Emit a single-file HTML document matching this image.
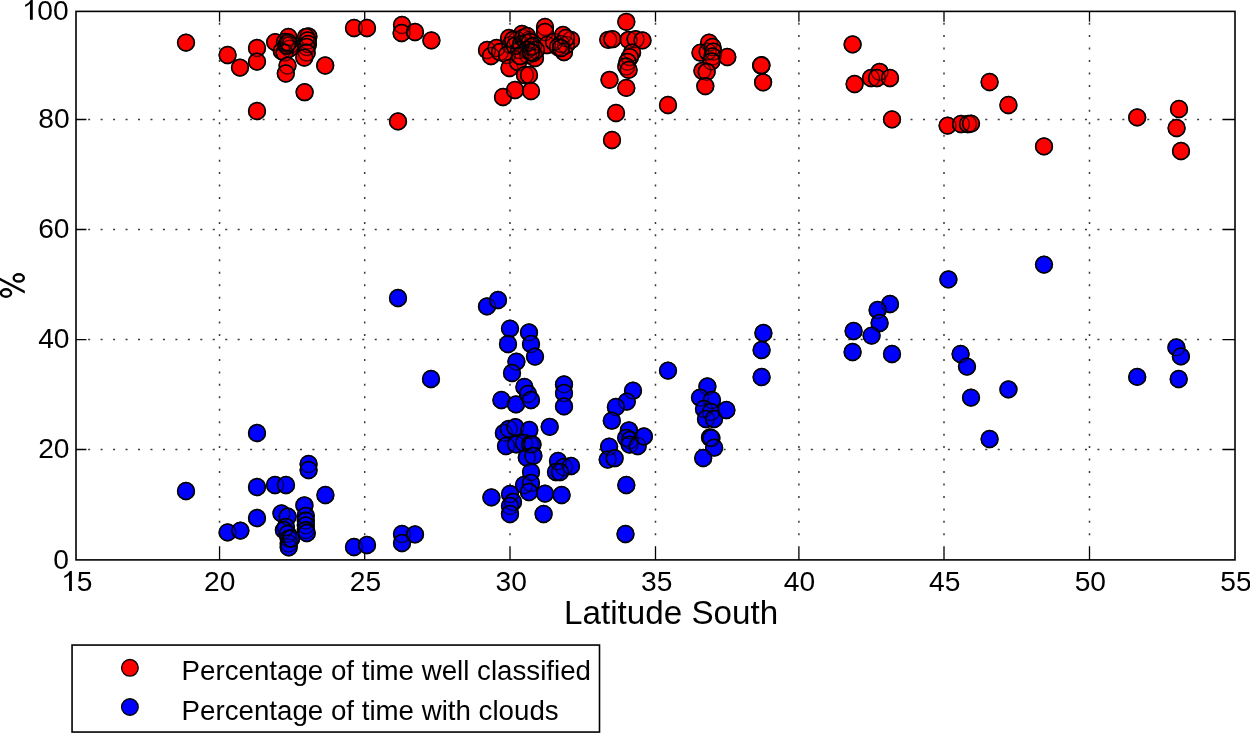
<!DOCTYPE html><html><head><meta charset="utf-8"><title>Latitude South</title><style>html,body{margin:0;padding:0;background:#fff;}svg{display:block;will-change:transform;}text{font-family:"Liberation Sans",sans-serif;fill:#000;}</style></head><body><svg width="1250" height="733" viewBox="0 0 1250 733"><rect width="1250" height="733" fill="#fff"/><path fill="#3a3a3a" d="M88.16 118.75h2.0v1.5h-2.0zM100.62 118.75h2.0v1.5h-2.0zM113.08 118.75h2.0v1.5h-2.0zM125.54 118.75h2.0v1.5h-2.0zM138.00 118.75h2.0v1.5h-2.0zM150.46 118.75h2.0v1.5h-2.0zM162.92 118.75h2.0v1.5h-2.0zM175.38 118.75h2.0v1.5h-2.0zM187.84 118.75h2.0v1.5h-2.0zM200.30 118.75h2.0v1.5h-2.0zM212.76 118.75h2.0v1.5h-2.0zM225.22 118.75h2.0v1.5h-2.0zM237.68 118.75h2.0v1.5h-2.0zM250.14 118.75h2.0v1.5h-2.0zM262.60 118.75h2.0v1.5h-2.0zM275.06 118.75h2.0v1.5h-2.0zM287.52 118.75h2.0v1.5h-2.0zM299.98 118.75h2.0v1.5h-2.0zM312.44 118.75h2.0v1.5h-2.0zM324.90 118.75h2.0v1.5h-2.0zM337.36 118.75h2.0v1.5h-2.0zM349.82 118.75h2.0v1.5h-2.0zM362.28 118.75h2.0v1.5h-2.0zM374.74 118.75h2.0v1.5h-2.0zM387.20 118.75h2.0v1.5h-2.0zM399.66 118.75h2.0v1.5h-2.0zM412.12 118.75h2.0v1.5h-2.0zM424.58 118.75h2.0v1.5h-2.0zM437.04 118.75h2.0v1.5h-2.0zM449.50 118.75h2.0v1.5h-2.0zM461.96 118.75h2.0v1.5h-2.0zM474.42 118.75h2.0v1.5h-2.0zM486.88 118.75h2.0v1.5h-2.0zM499.34 118.75h2.0v1.5h-2.0zM511.80 118.75h2.0v1.5h-2.0zM524.26 118.75h2.0v1.5h-2.0zM536.72 118.75h2.0v1.5h-2.0zM549.18 118.75h2.0v1.5h-2.0zM561.64 118.75h2.0v1.5h-2.0zM574.10 118.75h2.0v1.5h-2.0zM586.56 118.75h2.0v1.5h-2.0zM599.02 118.75h2.0v1.5h-2.0zM611.48 118.75h2.0v1.5h-2.0zM623.94 118.75h2.0v1.5h-2.0zM636.40 118.75h2.0v1.5h-2.0zM648.86 118.75h2.0v1.5h-2.0zM661.32 118.75h2.0v1.5h-2.0zM673.78 118.75h2.0v1.5h-2.0zM686.24 118.75h2.0v1.5h-2.0zM698.70 118.75h2.0v1.5h-2.0zM711.16 118.75h2.0v1.5h-2.0zM723.62 118.75h2.0v1.5h-2.0zM736.08 118.75h2.0v1.5h-2.0zM748.54 118.75h2.0v1.5h-2.0zM761.00 118.75h2.0v1.5h-2.0zM773.46 118.75h2.0v1.5h-2.0zM785.92 118.75h2.0v1.5h-2.0zM798.38 118.75h2.0v1.5h-2.0zM810.84 118.75h2.0v1.5h-2.0zM823.30 118.75h2.0v1.5h-2.0zM835.76 118.75h2.0v1.5h-2.0zM848.22 118.75h2.0v1.5h-2.0zM860.68 118.75h2.0v1.5h-2.0zM873.14 118.75h2.0v1.5h-2.0zM885.60 118.75h2.0v1.5h-2.0zM898.06 118.75h2.0v1.5h-2.0zM910.52 118.75h2.0v1.5h-2.0zM922.98 118.75h2.0v1.5h-2.0zM935.44 118.75h2.0v1.5h-2.0zM947.90 118.75h2.0v1.5h-2.0zM960.36 118.75h2.0v1.5h-2.0zM972.82 118.75h2.0v1.5h-2.0zM985.28 118.75h2.0v1.5h-2.0zM997.74 118.75h2.0v1.5h-2.0zM1010.20 118.75h2.0v1.5h-2.0zM1022.66 118.75h2.0v1.5h-2.0zM1035.12 118.75h2.0v1.5h-2.0zM1047.58 118.75h2.0v1.5h-2.0zM1060.04 118.75h2.0v1.5h-2.0zM1072.50 118.75h2.0v1.5h-2.0zM1084.96 118.75h2.0v1.5h-2.0zM1097.42 118.75h2.0v1.5h-2.0zM1109.88 118.75h2.0v1.5h-2.0zM1122.34 118.75h2.0v1.5h-2.0zM1134.80 118.75h2.0v1.5h-2.0zM1147.26 118.75h2.0v1.5h-2.0zM1159.72 118.75h2.0v1.5h-2.0zM1172.18 118.75h2.0v1.5h-2.0zM1184.64 118.75h2.0v1.5h-2.0zM1197.10 118.75h2.0v1.5h-2.0zM1209.56 118.75h2.0v1.5h-2.0zM88.16 228.75h2.0v1.5h-2.0zM100.62 228.75h2.0v1.5h-2.0zM113.08 228.75h2.0v1.5h-2.0zM125.54 228.75h2.0v1.5h-2.0zM138.00 228.75h2.0v1.5h-2.0zM150.46 228.75h2.0v1.5h-2.0zM162.92 228.75h2.0v1.5h-2.0zM175.38 228.75h2.0v1.5h-2.0zM187.84 228.75h2.0v1.5h-2.0zM200.30 228.75h2.0v1.5h-2.0zM212.76 228.75h2.0v1.5h-2.0zM225.22 228.75h2.0v1.5h-2.0zM237.68 228.75h2.0v1.5h-2.0zM250.14 228.75h2.0v1.5h-2.0zM262.60 228.75h2.0v1.5h-2.0zM275.06 228.75h2.0v1.5h-2.0zM287.52 228.75h2.0v1.5h-2.0zM299.98 228.75h2.0v1.5h-2.0zM312.44 228.75h2.0v1.5h-2.0zM324.90 228.75h2.0v1.5h-2.0zM337.36 228.75h2.0v1.5h-2.0zM349.82 228.75h2.0v1.5h-2.0zM362.28 228.75h2.0v1.5h-2.0zM374.74 228.75h2.0v1.5h-2.0zM387.20 228.75h2.0v1.5h-2.0zM399.66 228.75h2.0v1.5h-2.0zM412.12 228.75h2.0v1.5h-2.0zM424.58 228.75h2.0v1.5h-2.0zM437.04 228.75h2.0v1.5h-2.0zM449.50 228.75h2.0v1.5h-2.0zM461.96 228.75h2.0v1.5h-2.0zM474.42 228.75h2.0v1.5h-2.0zM486.88 228.75h2.0v1.5h-2.0zM499.34 228.75h2.0v1.5h-2.0zM511.80 228.75h2.0v1.5h-2.0zM524.26 228.75h2.0v1.5h-2.0zM536.72 228.75h2.0v1.5h-2.0zM549.18 228.75h2.0v1.5h-2.0zM561.64 228.75h2.0v1.5h-2.0zM574.10 228.75h2.0v1.5h-2.0zM586.56 228.75h2.0v1.5h-2.0zM599.02 228.75h2.0v1.5h-2.0zM611.48 228.75h2.0v1.5h-2.0zM623.94 228.75h2.0v1.5h-2.0zM636.40 228.75h2.0v1.5h-2.0zM648.86 228.75h2.0v1.5h-2.0zM661.32 228.75h2.0v1.5h-2.0zM673.78 228.75h2.0v1.5h-2.0zM686.24 228.75h2.0v1.5h-2.0zM698.70 228.75h2.0v1.5h-2.0zM711.16 228.75h2.0v1.5h-2.0zM723.62 228.75h2.0v1.5h-2.0zM736.08 228.75h2.0v1.5h-2.0zM748.54 228.75h2.0v1.5h-2.0zM761.00 228.75h2.0v1.5h-2.0zM773.46 228.75h2.0v1.5h-2.0zM785.92 228.75h2.0v1.5h-2.0zM798.38 228.75h2.0v1.5h-2.0zM810.84 228.75h2.0v1.5h-2.0zM823.30 228.75h2.0v1.5h-2.0zM835.76 228.75h2.0v1.5h-2.0zM848.22 228.75h2.0v1.5h-2.0zM860.68 228.75h2.0v1.5h-2.0zM873.14 228.75h2.0v1.5h-2.0zM885.60 228.75h2.0v1.5h-2.0zM898.06 228.75h2.0v1.5h-2.0zM910.52 228.75h2.0v1.5h-2.0zM922.98 228.75h2.0v1.5h-2.0zM935.44 228.75h2.0v1.5h-2.0zM947.90 228.75h2.0v1.5h-2.0zM960.36 228.75h2.0v1.5h-2.0zM972.82 228.75h2.0v1.5h-2.0zM985.28 228.75h2.0v1.5h-2.0zM997.74 228.75h2.0v1.5h-2.0zM1010.20 228.75h2.0v1.5h-2.0zM1022.66 228.75h2.0v1.5h-2.0zM1035.12 228.75h2.0v1.5h-2.0zM1047.58 228.75h2.0v1.5h-2.0zM1060.04 228.75h2.0v1.5h-2.0zM1072.50 228.75h2.0v1.5h-2.0zM1084.96 228.75h2.0v1.5h-2.0zM1097.42 228.75h2.0v1.5h-2.0zM1109.88 228.75h2.0v1.5h-2.0zM1122.34 228.75h2.0v1.5h-2.0zM1134.80 228.75h2.0v1.5h-2.0zM1147.26 228.75h2.0v1.5h-2.0zM1159.72 228.75h2.0v1.5h-2.0zM1172.18 228.75h2.0v1.5h-2.0zM1184.64 228.75h2.0v1.5h-2.0zM1197.10 228.75h2.0v1.5h-2.0zM1209.56 228.75h2.0v1.5h-2.0zM88.16 338.85h2.0v1.5h-2.0zM100.62 338.85h2.0v1.5h-2.0zM113.08 338.85h2.0v1.5h-2.0zM125.54 338.85h2.0v1.5h-2.0zM138.00 338.85h2.0v1.5h-2.0zM150.46 338.85h2.0v1.5h-2.0zM162.92 338.85h2.0v1.5h-2.0zM175.38 338.85h2.0v1.5h-2.0zM187.84 338.85h2.0v1.5h-2.0zM200.30 338.85h2.0v1.5h-2.0zM212.76 338.85h2.0v1.5h-2.0zM225.22 338.85h2.0v1.5h-2.0zM237.68 338.85h2.0v1.5h-2.0zM250.14 338.85h2.0v1.5h-2.0zM262.60 338.85h2.0v1.5h-2.0zM275.06 338.85h2.0v1.5h-2.0zM287.52 338.85h2.0v1.5h-2.0zM299.98 338.85h2.0v1.5h-2.0zM312.44 338.85h2.0v1.5h-2.0zM324.90 338.85h2.0v1.5h-2.0zM337.36 338.85h2.0v1.5h-2.0zM349.82 338.85h2.0v1.5h-2.0zM362.28 338.85h2.0v1.5h-2.0zM374.74 338.85h2.0v1.5h-2.0zM387.20 338.85h2.0v1.5h-2.0zM399.66 338.85h2.0v1.5h-2.0zM412.12 338.85h2.0v1.5h-2.0zM424.58 338.85h2.0v1.5h-2.0zM437.04 338.85h2.0v1.5h-2.0zM449.50 338.85h2.0v1.5h-2.0zM461.96 338.85h2.0v1.5h-2.0zM474.42 338.85h2.0v1.5h-2.0zM486.88 338.85h2.0v1.5h-2.0zM499.34 338.85h2.0v1.5h-2.0zM511.80 338.85h2.0v1.5h-2.0zM524.26 338.85h2.0v1.5h-2.0zM536.72 338.85h2.0v1.5h-2.0zM549.18 338.85h2.0v1.5h-2.0zM561.64 338.85h2.0v1.5h-2.0zM574.10 338.85h2.0v1.5h-2.0zM586.56 338.85h2.0v1.5h-2.0zM599.02 338.85h2.0v1.5h-2.0zM611.48 338.85h2.0v1.5h-2.0zM623.94 338.85h2.0v1.5h-2.0zM636.40 338.85h2.0v1.5h-2.0zM648.86 338.85h2.0v1.5h-2.0zM661.32 338.85h2.0v1.5h-2.0zM673.78 338.85h2.0v1.5h-2.0zM686.24 338.85h2.0v1.5h-2.0zM698.70 338.85h2.0v1.5h-2.0zM711.16 338.85h2.0v1.5h-2.0zM723.62 338.85h2.0v1.5h-2.0zM736.08 338.85h2.0v1.5h-2.0zM748.54 338.85h2.0v1.5h-2.0zM761.00 338.85h2.0v1.5h-2.0zM773.46 338.85h2.0v1.5h-2.0zM785.92 338.85h2.0v1.5h-2.0zM798.38 338.85h2.0v1.5h-2.0zM810.84 338.85h2.0v1.5h-2.0zM823.30 338.85h2.0v1.5h-2.0zM835.76 338.85h2.0v1.5h-2.0zM848.22 338.85h2.0v1.5h-2.0zM860.68 338.85h2.0v1.5h-2.0zM873.14 338.85h2.0v1.5h-2.0zM885.60 338.85h2.0v1.5h-2.0zM898.06 338.85h2.0v1.5h-2.0zM910.52 338.85h2.0v1.5h-2.0zM922.98 338.85h2.0v1.5h-2.0zM935.44 338.85h2.0v1.5h-2.0zM947.90 338.85h2.0v1.5h-2.0zM960.36 338.85h2.0v1.5h-2.0zM972.82 338.85h2.0v1.5h-2.0zM985.28 338.85h2.0v1.5h-2.0zM997.74 338.85h2.0v1.5h-2.0zM1010.20 338.85h2.0v1.5h-2.0zM1022.66 338.85h2.0v1.5h-2.0zM1035.12 338.85h2.0v1.5h-2.0zM1047.58 338.85h2.0v1.5h-2.0zM1060.04 338.85h2.0v1.5h-2.0zM1072.50 338.85h2.0v1.5h-2.0zM1084.96 338.85h2.0v1.5h-2.0zM1097.42 338.85h2.0v1.5h-2.0zM1109.88 338.85h2.0v1.5h-2.0zM1122.34 338.85h2.0v1.5h-2.0zM1134.80 338.85h2.0v1.5h-2.0zM1147.26 338.85h2.0v1.5h-2.0zM1159.72 338.85h2.0v1.5h-2.0zM1172.18 338.85h2.0v1.5h-2.0zM1184.64 338.85h2.0v1.5h-2.0zM1197.10 338.85h2.0v1.5h-2.0zM1209.56 338.85h2.0v1.5h-2.0zM88.16 448.75h2.0v1.5h-2.0zM100.62 448.75h2.0v1.5h-2.0zM113.08 448.75h2.0v1.5h-2.0zM125.54 448.75h2.0v1.5h-2.0zM138.00 448.75h2.0v1.5h-2.0zM150.46 448.75h2.0v1.5h-2.0zM162.92 448.75h2.0v1.5h-2.0zM175.38 448.75h2.0v1.5h-2.0zM187.84 448.75h2.0v1.5h-2.0zM200.30 448.75h2.0v1.5h-2.0zM212.76 448.75h2.0v1.5h-2.0zM225.22 448.75h2.0v1.5h-2.0zM237.68 448.75h2.0v1.5h-2.0zM250.14 448.75h2.0v1.5h-2.0zM262.60 448.75h2.0v1.5h-2.0zM275.06 448.75h2.0v1.5h-2.0zM287.52 448.75h2.0v1.5h-2.0zM299.98 448.75h2.0v1.5h-2.0zM312.44 448.75h2.0v1.5h-2.0zM324.90 448.75h2.0v1.5h-2.0zM337.36 448.75h2.0v1.5h-2.0zM349.82 448.75h2.0v1.5h-2.0zM362.28 448.75h2.0v1.5h-2.0zM374.74 448.75h2.0v1.5h-2.0zM387.20 448.75h2.0v1.5h-2.0zM399.66 448.75h2.0v1.5h-2.0zM412.12 448.75h2.0v1.5h-2.0zM424.58 448.75h2.0v1.5h-2.0zM437.04 448.75h2.0v1.5h-2.0zM449.50 448.75h2.0v1.5h-2.0zM461.96 448.75h2.0v1.5h-2.0zM474.42 448.75h2.0v1.5h-2.0zM486.88 448.75h2.0v1.5h-2.0zM499.34 448.75h2.0v1.5h-2.0zM511.80 448.75h2.0v1.5h-2.0zM524.26 448.75h2.0v1.5h-2.0zM536.72 448.75h2.0v1.5h-2.0zM549.18 448.75h2.0v1.5h-2.0zM561.64 448.75h2.0v1.5h-2.0zM574.10 448.75h2.0v1.5h-2.0zM586.56 448.75h2.0v1.5h-2.0zM599.02 448.75h2.0v1.5h-2.0zM611.48 448.75h2.0v1.5h-2.0zM623.94 448.75h2.0v1.5h-2.0zM636.40 448.75h2.0v1.5h-2.0zM648.86 448.75h2.0v1.5h-2.0zM661.32 448.75h2.0v1.5h-2.0zM673.78 448.75h2.0v1.5h-2.0zM686.24 448.75h2.0v1.5h-2.0zM698.70 448.75h2.0v1.5h-2.0zM711.16 448.75h2.0v1.5h-2.0zM723.62 448.75h2.0v1.5h-2.0zM736.08 448.75h2.0v1.5h-2.0zM748.54 448.75h2.0v1.5h-2.0zM761.00 448.75h2.0v1.5h-2.0zM773.46 448.75h2.0v1.5h-2.0zM785.92 448.75h2.0v1.5h-2.0zM798.38 448.75h2.0v1.5h-2.0zM810.84 448.75h2.0v1.5h-2.0zM823.30 448.75h2.0v1.5h-2.0zM835.76 448.75h2.0v1.5h-2.0zM848.22 448.75h2.0v1.5h-2.0zM860.68 448.75h2.0v1.5h-2.0zM873.14 448.75h2.0v1.5h-2.0zM885.60 448.75h2.0v1.5h-2.0zM898.06 448.75h2.0v1.5h-2.0zM910.52 448.75h2.0v1.5h-2.0zM922.98 448.75h2.0v1.5h-2.0zM935.44 448.75h2.0v1.5h-2.0zM947.90 448.75h2.0v1.5h-2.0zM960.36 448.75h2.0v1.5h-2.0zM972.82 448.75h2.0v1.5h-2.0zM985.28 448.75h2.0v1.5h-2.0zM997.74 448.75h2.0v1.5h-2.0zM1010.20 448.75h2.0v1.5h-2.0zM1022.66 448.75h2.0v1.5h-2.0zM1035.12 448.75h2.0v1.5h-2.0zM1047.58 448.75h2.0v1.5h-2.0zM1060.04 448.75h2.0v1.5h-2.0zM1072.50 448.75h2.0v1.5h-2.0zM1084.96 448.75h2.0v1.5h-2.0zM1097.42 448.75h2.0v1.5h-2.0zM1109.88 448.75h2.0v1.5h-2.0zM1122.34 448.75h2.0v1.5h-2.0zM1134.80 448.75h2.0v1.5h-2.0zM1147.26 448.75h2.0v1.5h-2.0zM1159.72 448.75h2.0v1.5h-2.0zM1172.18 448.75h2.0v1.5h-2.0zM1184.64 448.75h2.0v1.5h-2.0zM1197.10 448.75h2.0v1.5h-2.0zM1209.56 448.75h2.0v1.5h-2.0zM218.80 22.63h1.5v2.0h-1.5zM218.80 35.09h1.5v2.0h-1.5zM218.80 47.55h1.5v2.0h-1.5zM218.80 60.00h1.5v2.0h-1.5zM218.80 72.45h1.5v2.0h-1.5zM218.80 84.91h1.5v2.0h-1.5zM218.80 97.37h1.5v2.0h-1.5zM218.80 109.82h1.5v2.0h-1.5zM218.80 122.28h1.5v2.0h-1.5zM218.80 134.73h1.5v2.0h-1.5zM218.80 147.19h1.5v2.0h-1.5zM218.80 159.64h1.5v2.0h-1.5zM218.80 172.09h1.5v2.0h-1.5zM218.80 184.55h1.5v2.0h-1.5zM218.80 197.00h1.5v2.0h-1.5zM218.80 209.46h1.5v2.0h-1.5zM218.80 221.92h1.5v2.0h-1.5zM218.80 234.37h1.5v2.0h-1.5zM218.80 246.83h1.5v2.0h-1.5zM218.80 259.28h1.5v2.0h-1.5zM218.80 271.74h1.5v2.0h-1.5zM218.80 284.19h1.5v2.0h-1.5zM218.80 296.64h1.5v2.0h-1.5zM218.80 309.10h1.5v2.0h-1.5zM218.80 321.56h1.5v2.0h-1.5zM218.80 334.01h1.5v2.0h-1.5zM218.80 346.47h1.5v2.0h-1.5zM218.80 358.92h1.5v2.0h-1.5zM218.80 371.38h1.5v2.0h-1.5zM218.80 383.83h1.5v2.0h-1.5zM218.80 396.29h1.5v2.0h-1.5zM218.80 408.74h1.5v2.0h-1.5zM218.80 421.19h1.5v2.0h-1.5zM218.80 433.65h1.5v2.0h-1.5zM218.80 446.11h1.5v2.0h-1.5zM218.80 458.56h1.5v2.0h-1.5zM218.80 471.01h1.5v2.0h-1.5zM218.80 483.47h1.5v2.0h-1.5zM218.80 495.93h1.5v2.0h-1.5zM218.80 508.38h1.5v2.0h-1.5zM218.80 520.84h1.5v2.0h-1.5zM218.80 533.29h1.5v2.0h-1.5zM363.95 22.63h1.5v2.0h-1.5zM363.95 35.09h1.5v2.0h-1.5zM363.95 47.55h1.5v2.0h-1.5zM363.95 60.00h1.5v2.0h-1.5zM363.95 72.45h1.5v2.0h-1.5zM363.95 84.91h1.5v2.0h-1.5zM363.95 97.37h1.5v2.0h-1.5zM363.95 109.82h1.5v2.0h-1.5zM363.95 122.28h1.5v2.0h-1.5zM363.95 134.73h1.5v2.0h-1.5zM363.95 147.19h1.5v2.0h-1.5zM363.95 159.64h1.5v2.0h-1.5zM363.95 172.09h1.5v2.0h-1.5zM363.95 184.55h1.5v2.0h-1.5zM363.95 197.00h1.5v2.0h-1.5zM363.95 209.46h1.5v2.0h-1.5zM363.95 221.92h1.5v2.0h-1.5zM363.95 234.37h1.5v2.0h-1.5zM363.95 246.83h1.5v2.0h-1.5zM363.95 259.28h1.5v2.0h-1.5zM363.95 271.74h1.5v2.0h-1.5zM363.95 284.19h1.5v2.0h-1.5zM363.95 296.64h1.5v2.0h-1.5zM363.95 309.10h1.5v2.0h-1.5zM363.95 321.56h1.5v2.0h-1.5zM363.95 334.01h1.5v2.0h-1.5zM363.95 346.47h1.5v2.0h-1.5zM363.95 358.92h1.5v2.0h-1.5zM363.95 371.38h1.5v2.0h-1.5zM363.95 383.83h1.5v2.0h-1.5zM363.95 396.29h1.5v2.0h-1.5zM363.95 408.74h1.5v2.0h-1.5zM363.95 421.19h1.5v2.0h-1.5zM363.95 433.65h1.5v2.0h-1.5zM363.95 446.11h1.5v2.0h-1.5zM363.95 458.56h1.5v2.0h-1.5zM363.95 471.01h1.5v2.0h-1.5zM363.95 483.47h1.5v2.0h-1.5zM363.95 495.93h1.5v2.0h-1.5zM363.95 508.38h1.5v2.0h-1.5zM363.95 520.84h1.5v2.0h-1.5zM363.95 533.29h1.5v2.0h-1.5zM509.25 22.63h1.5v2.0h-1.5zM509.25 35.09h1.5v2.0h-1.5zM509.25 47.55h1.5v2.0h-1.5zM509.25 60.00h1.5v2.0h-1.5zM509.25 72.45h1.5v2.0h-1.5zM509.25 84.91h1.5v2.0h-1.5zM509.25 97.37h1.5v2.0h-1.5zM509.25 109.82h1.5v2.0h-1.5zM509.25 122.28h1.5v2.0h-1.5zM509.25 134.73h1.5v2.0h-1.5zM509.25 147.19h1.5v2.0h-1.5zM509.25 159.64h1.5v2.0h-1.5zM509.25 172.09h1.5v2.0h-1.5zM509.25 184.55h1.5v2.0h-1.5zM509.25 197.00h1.5v2.0h-1.5zM509.25 209.46h1.5v2.0h-1.5zM509.25 221.92h1.5v2.0h-1.5zM509.25 234.37h1.5v2.0h-1.5zM509.25 246.83h1.5v2.0h-1.5zM509.25 259.28h1.5v2.0h-1.5zM509.25 271.74h1.5v2.0h-1.5zM509.25 284.19h1.5v2.0h-1.5zM509.25 296.64h1.5v2.0h-1.5zM509.25 309.10h1.5v2.0h-1.5zM509.25 321.56h1.5v2.0h-1.5zM509.25 334.01h1.5v2.0h-1.5zM509.25 346.47h1.5v2.0h-1.5zM509.25 358.92h1.5v2.0h-1.5zM509.25 371.38h1.5v2.0h-1.5zM509.25 383.83h1.5v2.0h-1.5zM509.25 396.29h1.5v2.0h-1.5zM509.25 408.74h1.5v2.0h-1.5zM509.25 421.19h1.5v2.0h-1.5zM509.25 433.65h1.5v2.0h-1.5zM509.25 446.11h1.5v2.0h-1.5zM509.25 458.56h1.5v2.0h-1.5zM509.25 471.01h1.5v2.0h-1.5zM509.25 483.47h1.5v2.0h-1.5zM509.25 495.93h1.5v2.0h-1.5zM509.25 508.38h1.5v2.0h-1.5zM509.25 520.84h1.5v2.0h-1.5zM509.25 533.29h1.5v2.0h-1.5zM654.75 22.63h1.5v2.0h-1.5zM654.75 35.09h1.5v2.0h-1.5zM654.75 47.55h1.5v2.0h-1.5zM654.75 60.00h1.5v2.0h-1.5zM654.75 72.45h1.5v2.0h-1.5zM654.75 84.91h1.5v2.0h-1.5zM654.75 97.37h1.5v2.0h-1.5zM654.75 109.82h1.5v2.0h-1.5zM654.75 122.28h1.5v2.0h-1.5zM654.75 134.73h1.5v2.0h-1.5zM654.75 147.19h1.5v2.0h-1.5zM654.75 159.64h1.5v2.0h-1.5zM654.75 172.09h1.5v2.0h-1.5zM654.75 184.55h1.5v2.0h-1.5zM654.75 197.00h1.5v2.0h-1.5zM654.75 209.46h1.5v2.0h-1.5zM654.75 221.92h1.5v2.0h-1.5zM654.75 234.37h1.5v2.0h-1.5zM654.75 246.83h1.5v2.0h-1.5zM654.75 259.28h1.5v2.0h-1.5zM654.75 271.74h1.5v2.0h-1.5zM654.75 284.19h1.5v2.0h-1.5zM654.75 296.64h1.5v2.0h-1.5zM654.75 309.10h1.5v2.0h-1.5zM654.75 321.56h1.5v2.0h-1.5zM654.75 334.01h1.5v2.0h-1.5zM654.75 346.47h1.5v2.0h-1.5zM654.75 358.92h1.5v2.0h-1.5zM654.75 371.38h1.5v2.0h-1.5zM654.75 383.83h1.5v2.0h-1.5zM654.75 396.29h1.5v2.0h-1.5zM654.75 408.74h1.5v2.0h-1.5zM654.75 421.19h1.5v2.0h-1.5zM654.75 433.65h1.5v2.0h-1.5zM654.75 446.11h1.5v2.0h-1.5zM654.75 458.56h1.5v2.0h-1.5zM654.75 471.01h1.5v2.0h-1.5zM654.75 483.47h1.5v2.0h-1.5zM654.75 495.93h1.5v2.0h-1.5zM654.75 508.38h1.5v2.0h-1.5zM654.75 520.84h1.5v2.0h-1.5zM654.75 533.29h1.5v2.0h-1.5zM798.15 22.63h1.5v2.0h-1.5zM798.15 35.09h1.5v2.0h-1.5zM798.15 47.55h1.5v2.0h-1.5zM798.15 60.00h1.5v2.0h-1.5zM798.15 72.45h1.5v2.0h-1.5zM798.15 84.91h1.5v2.0h-1.5zM798.15 97.37h1.5v2.0h-1.5zM798.15 109.82h1.5v2.0h-1.5zM798.15 122.28h1.5v2.0h-1.5zM798.15 134.73h1.5v2.0h-1.5zM798.15 147.19h1.5v2.0h-1.5zM798.15 159.64h1.5v2.0h-1.5zM798.15 172.09h1.5v2.0h-1.5zM798.15 184.55h1.5v2.0h-1.5zM798.15 197.00h1.5v2.0h-1.5zM798.15 209.46h1.5v2.0h-1.5zM798.15 221.92h1.5v2.0h-1.5zM798.15 234.37h1.5v2.0h-1.5zM798.15 246.83h1.5v2.0h-1.5zM798.15 259.28h1.5v2.0h-1.5zM798.15 271.74h1.5v2.0h-1.5zM798.15 284.19h1.5v2.0h-1.5zM798.15 296.64h1.5v2.0h-1.5zM798.15 309.10h1.5v2.0h-1.5zM798.15 321.56h1.5v2.0h-1.5zM798.15 334.01h1.5v2.0h-1.5zM798.15 346.47h1.5v2.0h-1.5zM798.15 358.92h1.5v2.0h-1.5zM798.15 371.38h1.5v2.0h-1.5zM798.15 383.83h1.5v2.0h-1.5zM798.15 396.29h1.5v2.0h-1.5zM798.15 408.74h1.5v2.0h-1.5zM798.15 421.19h1.5v2.0h-1.5zM798.15 433.65h1.5v2.0h-1.5zM798.15 446.11h1.5v2.0h-1.5zM798.15 458.56h1.5v2.0h-1.5zM798.15 471.01h1.5v2.0h-1.5zM798.15 483.47h1.5v2.0h-1.5zM798.15 495.93h1.5v2.0h-1.5zM798.15 508.38h1.5v2.0h-1.5zM798.15 520.84h1.5v2.0h-1.5zM798.15 533.29h1.5v2.0h-1.5zM943.25 22.63h1.5v2.0h-1.5zM943.25 35.09h1.5v2.0h-1.5zM943.25 47.55h1.5v2.0h-1.5zM943.25 60.00h1.5v2.0h-1.5zM943.25 72.45h1.5v2.0h-1.5zM943.25 84.91h1.5v2.0h-1.5zM943.25 97.37h1.5v2.0h-1.5zM943.25 109.82h1.5v2.0h-1.5zM943.25 122.28h1.5v2.0h-1.5zM943.25 134.73h1.5v2.0h-1.5zM943.25 147.19h1.5v2.0h-1.5zM943.25 159.64h1.5v2.0h-1.5zM943.25 172.09h1.5v2.0h-1.5zM943.25 184.55h1.5v2.0h-1.5zM943.25 197.00h1.5v2.0h-1.5zM943.25 209.46h1.5v2.0h-1.5zM943.25 221.92h1.5v2.0h-1.5zM943.25 234.37h1.5v2.0h-1.5zM943.25 246.83h1.5v2.0h-1.5zM943.25 259.28h1.5v2.0h-1.5zM943.25 271.74h1.5v2.0h-1.5zM943.25 284.19h1.5v2.0h-1.5zM943.25 296.64h1.5v2.0h-1.5zM943.25 309.10h1.5v2.0h-1.5zM943.25 321.56h1.5v2.0h-1.5zM943.25 334.01h1.5v2.0h-1.5zM943.25 346.47h1.5v2.0h-1.5zM943.25 358.92h1.5v2.0h-1.5zM943.25 371.38h1.5v2.0h-1.5zM943.25 383.83h1.5v2.0h-1.5zM943.25 396.29h1.5v2.0h-1.5zM943.25 408.74h1.5v2.0h-1.5zM943.25 421.19h1.5v2.0h-1.5zM943.25 433.65h1.5v2.0h-1.5zM943.25 446.11h1.5v2.0h-1.5zM943.25 458.56h1.5v2.0h-1.5zM943.25 471.01h1.5v2.0h-1.5zM943.25 483.47h1.5v2.0h-1.5zM943.25 495.93h1.5v2.0h-1.5zM943.25 508.38h1.5v2.0h-1.5zM943.25 520.84h1.5v2.0h-1.5zM943.25 533.29h1.5v2.0h-1.5zM1088.75 22.63h1.5v2.0h-1.5zM1088.75 35.09h1.5v2.0h-1.5zM1088.75 47.55h1.5v2.0h-1.5zM1088.75 60.00h1.5v2.0h-1.5zM1088.75 72.45h1.5v2.0h-1.5zM1088.75 84.91h1.5v2.0h-1.5zM1088.75 97.37h1.5v2.0h-1.5zM1088.75 109.82h1.5v2.0h-1.5zM1088.75 122.28h1.5v2.0h-1.5zM1088.75 134.73h1.5v2.0h-1.5zM1088.75 147.19h1.5v2.0h-1.5zM1088.75 159.64h1.5v2.0h-1.5zM1088.75 172.09h1.5v2.0h-1.5zM1088.75 184.55h1.5v2.0h-1.5zM1088.75 197.00h1.5v2.0h-1.5zM1088.75 209.46h1.5v2.0h-1.5zM1088.75 221.92h1.5v2.0h-1.5zM1088.75 234.37h1.5v2.0h-1.5zM1088.75 246.83h1.5v2.0h-1.5zM1088.75 259.28h1.5v2.0h-1.5zM1088.75 271.74h1.5v2.0h-1.5zM1088.75 284.19h1.5v2.0h-1.5zM1088.75 296.64h1.5v2.0h-1.5zM1088.75 309.10h1.5v2.0h-1.5zM1088.75 321.56h1.5v2.0h-1.5zM1088.75 334.01h1.5v2.0h-1.5zM1088.75 346.47h1.5v2.0h-1.5zM1088.75 358.92h1.5v2.0h-1.5zM1088.75 371.38h1.5v2.0h-1.5zM1088.75 383.83h1.5v2.0h-1.5zM1088.75 396.29h1.5v2.0h-1.5zM1088.75 408.74h1.5v2.0h-1.5zM1088.75 421.19h1.5v2.0h-1.5zM1088.75 433.65h1.5v2.0h-1.5zM1088.75 446.11h1.5v2.0h-1.5zM1088.75 458.56h1.5v2.0h-1.5zM1088.75 471.01h1.5v2.0h-1.5zM1088.75 483.47h1.5v2.0h-1.5zM1088.75 495.93h1.5v2.0h-1.5zM1088.75 508.38h1.5v2.0h-1.5zM1088.75 520.84h1.5v2.0h-1.5zM1088.75 533.29h1.5v2.0h-1.5z"/><path stroke="#000" stroke-width="1.3" fill="none" d="M76.0 119.5h10.4M1235.0 119.5H1222.4M76.0 229.5h10.4M1235.0 229.5H1222.4M76.0 339.6h10.4M1235.0 339.6H1222.4M76.0 449.5h10.4M1235.0 449.5H1222.4M219.55 559.9V546.2M219.55 11.4v10.4M364.70 559.9V546.2M364.70 11.4v10.4M510.00 559.9V546.2M510.00 11.4v10.4M655.50 559.9V546.2M655.50 11.4v10.4M798.90 559.9V546.2M798.90 11.4v10.4M944.00 559.9V546.2M944.00 11.4v10.4M1089.50 559.9V546.2M1089.50 11.4v10.4"/><rect x="76.0" y="11.4" width="1159.0" height="548.5" fill="none" stroke="#000" stroke-width="1.6"/><g fill="#f00" stroke="#000" stroke-width="1.5"><circle cx="186" cy="42.6" r="8.4"/><circle cx="227.6" cy="55" r="8.4"/><circle cx="240" cy="67.6" r="8.4"/><circle cx="257" cy="48" r="8.4"/><circle cx="257" cy="61.6" r="8.4"/><circle cx="257" cy="111" r="8.4"/><circle cx="275.2" cy="42.1" r="8.4"/><circle cx="288.4" cy="37.0" r="8.4"/><circle cx="285" cy="42" r="8.4"/><circle cx="287.1" cy="43.7" r="8.4"/><circle cx="290" cy="45" r="8.4"/><circle cx="289.5" cy="48.6" r="8.4"/><circle cx="281.8" cy="51.1" r="8.4"/><circle cx="284.6" cy="52.7" r="8.4"/><circle cx="286.5" cy="45.5" r="8.4"/><circle cx="288.3" cy="42.5" r="8.4"/><circle cx="287.5" cy="65.6" r="8.4"/><circle cx="285.8" cy="73.5" r="8.4"/><circle cx="304.6" cy="92.2" r="8.4"/><circle cx="308.4" cy="36.5" r="8.4"/><circle cx="306" cy="37" r="8.4"/><circle cx="307.6" cy="40.5" r="8.4"/><circle cx="308" cy="44" r="8.4"/><circle cx="306.7" cy="47" r="8.4"/><circle cx="306.7" cy="52.7" r="8.4"/><circle cx="304.3" cy="57.6" r="8.4"/><circle cx="325.2" cy="65.5" r="8.4"/><circle cx="354" cy="28" r="8.4"/><circle cx="367" cy="28" r="8.4"/><circle cx="398" cy="121.4" r="8.4"/><circle cx="402" cy="25" r="8.4"/><circle cx="401.6" cy="33" r="8.4"/><circle cx="415" cy="32" r="8.4"/><circle cx="431.4" cy="40.4" r="8.4"/><circle cx="487" cy="50" r="8.4"/><circle cx="491" cy="56" r="8.4"/><circle cx="496.5" cy="48" r="8.4"/><circle cx="500" cy="52" r="8.4"/><circle cx="509" cy="38" r="8.4"/><circle cx="510.5" cy="45" r="8.4"/><circle cx="507" cy="55" r="8.4"/><circle cx="509.5" cy="68" r="8.4"/><circle cx="518" cy="62" r="8.4"/><circle cx="522" cy="34" r="8.4"/><circle cx="517" cy="40" r="8.4"/><circle cx="526" cy="43" r="8.4"/><circle cx="529" cy="40" r="8.4"/><circle cx="531" cy="47" r="8.4"/><circle cx="528" cy="55" r="8.4"/><circle cx="535" cy="58" r="8.4"/><circle cx="533" cy="53" r="8.4"/><circle cx="525" cy="75" r="8.4"/><circle cx="529" cy="75" r="8.4"/><circle cx="545" cy="27" r="8.4"/><circle cx="545" cy="32" r="8.4"/><circle cx="547" cy="45" r="8.4"/><circle cx="554" cy="42" r="8.4"/><circle cx="563" cy="35" r="8.4"/><circle cx="571" cy="40" r="8.4"/><circle cx="564" cy="52" r="8.4"/><circle cx="561" cy="44" r="8.4"/><circle cx="558" cy="47" r="8.4"/><circle cx="566" cy="45" r="8.4"/><circle cx="503" cy="97" r="8.4"/><circle cx="515" cy="90" r="8.4"/><circle cx="531" cy="91" r="8.4"/><circle cx="513" cy="40" r="8.4"/><circle cx="515" cy="46" r="8.4"/><circle cx="519" cy="50" r="8.4"/><circle cx="521" cy="44" r="8.4"/><circle cx="523" cy="38" r="8.4"/><circle cx="527" cy="36" r="8.4"/><circle cx="530" cy="42" r="8.4"/><circle cx="533" cy="46" r="8.4"/><circle cx="536" cy="50" r="8.4"/><circle cx="527" cy="50" r="8.4"/><circle cx="520" cy="56" r="8.4"/><circle cx="531" cy="52" r="8.4"/><circle cx="566" cy="38" r="8.4"/><circle cx="561" cy="48" r="8.4"/><circle cx="626.3" cy="21.8" r="8.4"/><circle cx="608.3" cy="39.8" r="8.4"/><circle cx="612.4" cy="39.2" r="8.4"/><circle cx="628.6" cy="39.8" r="8.4"/><circle cx="635.6" cy="39.2" r="8.4"/><circle cx="642.5" cy="40.4" r="8.4"/><circle cx="632.1" cy="52.6" r="8.4"/><circle cx="629.8" cy="57.2" r="8.4"/><circle cx="627.4" cy="61.8" r="8.4"/><circle cx="626.3" cy="66.5" r="8.4"/><circle cx="628.6" cy="69.9" r="8.4"/><circle cx="609.5" cy="79.8" r="8.4"/><circle cx="626.3" cy="87.9" r="8.4"/><circle cx="616" cy="113" r="8.4"/><circle cx="612" cy="140" r="8.4"/><circle cx="668" cy="105" r="8.4"/><circle cx="709.1" cy="42.7" r="8.4"/><circle cx="700.5" cy="52.7" r="8.4"/><circle cx="707.7" cy="51.7" r="8.4"/><circle cx="712.5" cy="47" r="8.4"/><circle cx="713.4" cy="51.7" r="8.4"/><circle cx="712.5" cy="56.5" r="8.4"/><circle cx="711.5" cy="61.3" r="8.4"/><circle cx="727.3" cy="57" r="8.4"/><circle cx="702.4" cy="70.8" r="8.4"/><circle cx="706.7" cy="71.8" r="8.4"/><circle cx="705.3" cy="86.1" r="8.4"/><circle cx="761.2" cy="65.6" r="8.4"/><circle cx="761.4" cy="65.2" r="8.4"/><circle cx="763.1" cy="82.3" r="8.4"/><circle cx="852.6" cy="44.4" r="8.4"/><circle cx="854.6" cy="84" r="8.4"/><circle cx="871" cy="78" r="8.4"/><circle cx="879.6" cy="71.8" r="8.4"/><circle cx="877" cy="78" r="8.4"/><circle cx="890" cy="78" r="8.4"/><circle cx="892" cy="119.4" r="8.4"/><circle cx="947.6" cy="125.6" r="8.4"/><circle cx="961" cy="124" r="8.4"/><circle cx="968" cy="124" r="8.4"/><circle cx="971" cy="123.6" r="8.4"/><circle cx="989.6" cy="82" r="8.4"/><circle cx="1008.4" cy="105" r="8.4"/><circle cx="1044" cy="146.4" r="8.4"/><circle cx="1137.2" cy="117.4" r="8.4"/><circle cx="1179" cy="109" r="8.4"/><circle cx="1176.6" cy="128" r="8.4"/><circle cx="1181" cy="151" r="8.4"/></g><g fill="none" stroke="#000" stroke-width="1.5" stroke-opacity="0.65"><circle cx="186" cy="42.6" r="8.4"/><circle cx="227.6" cy="55" r="8.4"/><circle cx="240" cy="67.6" r="8.4"/><circle cx="257" cy="48" r="8.4"/><circle cx="257" cy="61.6" r="8.4"/><circle cx="257" cy="111" r="8.4"/><circle cx="275.2" cy="42.1" r="8.4"/><circle cx="288.4" cy="37.0" r="8.4"/><circle cx="285" cy="42" r="8.4"/><circle cx="287.1" cy="43.7" r="8.4"/><circle cx="290" cy="45" r="8.4"/><circle cx="289.5" cy="48.6" r="8.4"/><circle cx="281.8" cy="51.1" r="8.4"/><circle cx="284.6" cy="52.7" r="8.4"/><circle cx="286.5" cy="45.5" r="8.4"/><circle cx="288.3" cy="42.5" r="8.4"/><circle cx="287.5" cy="65.6" r="8.4"/><circle cx="285.8" cy="73.5" r="8.4"/><circle cx="304.6" cy="92.2" r="8.4"/><circle cx="308.4" cy="36.5" r="8.4"/><circle cx="306" cy="37" r="8.4"/><circle cx="307.6" cy="40.5" r="8.4"/><circle cx="308" cy="44" r="8.4"/><circle cx="306.7" cy="47" r="8.4"/><circle cx="306.7" cy="52.7" r="8.4"/><circle cx="304.3" cy="57.6" r="8.4"/><circle cx="325.2" cy="65.5" r="8.4"/><circle cx="354" cy="28" r="8.4"/><circle cx="367" cy="28" r="8.4"/><circle cx="398" cy="121.4" r="8.4"/><circle cx="402" cy="25" r="8.4"/><circle cx="401.6" cy="33" r="8.4"/><circle cx="415" cy="32" r="8.4"/><circle cx="431.4" cy="40.4" r="8.4"/><circle cx="487" cy="50" r="8.4"/><circle cx="491" cy="56" r="8.4"/><circle cx="496.5" cy="48" r="8.4"/><circle cx="500" cy="52" r="8.4"/><circle cx="509" cy="38" r="8.4"/><circle cx="510.5" cy="45" r="8.4"/><circle cx="507" cy="55" r="8.4"/><circle cx="509.5" cy="68" r="8.4"/><circle cx="518" cy="62" r="8.4"/><circle cx="522" cy="34" r="8.4"/><circle cx="517" cy="40" r="8.4"/><circle cx="526" cy="43" r="8.4"/><circle cx="529" cy="40" r="8.4"/><circle cx="531" cy="47" r="8.4"/><circle cx="528" cy="55" r="8.4"/><circle cx="535" cy="58" r="8.4"/><circle cx="533" cy="53" r="8.4"/><circle cx="525" cy="75" r="8.4"/><circle cx="529" cy="75" r="8.4"/><circle cx="545" cy="27" r="8.4"/><circle cx="545" cy="32" r="8.4"/><circle cx="547" cy="45" r="8.4"/><circle cx="554" cy="42" r="8.4"/><circle cx="563" cy="35" r="8.4"/><circle cx="571" cy="40" r="8.4"/><circle cx="564" cy="52" r="8.4"/><circle cx="561" cy="44" r="8.4"/><circle cx="558" cy="47" r="8.4"/><circle cx="566" cy="45" r="8.4"/><circle cx="503" cy="97" r="8.4"/><circle cx="515" cy="90" r="8.4"/><circle cx="531" cy="91" r="8.4"/><circle cx="513" cy="40" r="8.4"/><circle cx="515" cy="46" r="8.4"/><circle cx="519" cy="50" r="8.4"/><circle cx="521" cy="44" r="8.4"/><circle cx="523" cy="38" r="8.4"/><circle cx="527" cy="36" r="8.4"/><circle cx="530" cy="42" r="8.4"/><circle cx="533" cy="46" r="8.4"/><circle cx="536" cy="50" r="8.4"/><circle cx="527" cy="50" r="8.4"/><circle cx="520" cy="56" r="8.4"/><circle cx="531" cy="52" r="8.4"/><circle cx="566" cy="38" r="8.4"/><circle cx="561" cy="48" r="8.4"/><circle cx="626.3" cy="21.8" r="8.4"/><circle cx="608.3" cy="39.8" r="8.4"/><circle cx="612.4" cy="39.2" r="8.4"/><circle cx="628.6" cy="39.8" r="8.4"/><circle cx="635.6" cy="39.2" r="8.4"/><circle cx="642.5" cy="40.4" r="8.4"/><circle cx="632.1" cy="52.6" r="8.4"/><circle cx="629.8" cy="57.2" r="8.4"/><circle cx="627.4" cy="61.8" r="8.4"/><circle cx="626.3" cy="66.5" r="8.4"/><circle cx="628.6" cy="69.9" r="8.4"/><circle cx="609.5" cy="79.8" r="8.4"/><circle cx="626.3" cy="87.9" r="8.4"/><circle cx="616" cy="113" r="8.4"/><circle cx="612" cy="140" r="8.4"/><circle cx="668" cy="105" r="8.4"/><circle cx="709.1" cy="42.7" r="8.4"/><circle cx="700.5" cy="52.7" r="8.4"/><circle cx="707.7" cy="51.7" r="8.4"/><circle cx="712.5" cy="47" r="8.4"/><circle cx="713.4" cy="51.7" r="8.4"/><circle cx="712.5" cy="56.5" r="8.4"/><circle cx="711.5" cy="61.3" r="8.4"/><circle cx="727.3" cy="57" r="8.4"/><circle cx="702.4" cy="70.8" r="8.4"/><circle cx="706.7" cy="71.8" r="8.4"/><circle cx="705.3" cy="86.1" r="8.4"/><circle cx="761.2" cy="65.6" r="8.4"/><circle cx="761.4" cy="65.2" r="8.4"/><circle cx="763.1" cy="82.3" r="8.4"/><circle cx="852.6" cy="44.4" r="8.4"/><circle cx="854.6" cy="84" r="8.4"/><circle cx="871" cy="78" r="8.4"/><circle cx="879.6" cy="71.8" r="8.4"/><circle cx="877" cy="78" r="8.4"/><circle cx="890" cy="78" r="8.4"/><circle cx="892" cy="119.4" r="8.4"/><circle cx="947.6" cy="125.6" r="8.4"/><circle cx="961" cy="124" r="8.4"/><circle cx="968" cy="124" r="8.4"/><circle cx="971" cy="123.6" r="8.4"/><circle cx="989.6" cy="82" r="8.4"/><circle cx="1008.4" cy="105" r="8.4"/><circle cx="1044" cy="146.4" r="8.4"/><circle cx="1137.2" cy="117.4" r="8.4"/><circle cx="1179" cy="109" r="8.4"/><circle cx="1176.6" cy="128" r="8.4"/><circle cx="1181" cy="151" r="8.4"/></g><g fill="#00f" stroke="#000" stroke-width="1.5"><circle cx="186" cy="491" r="8.4"/><circle cx="227.6" cy="532.4" r="8.4"/><circle cx="240.4" cy="530.6" r="8.4"/><circle cx="257" cy="433" r="8.4"/><circle cx="257" cy="487" r="8.4"/><circle cx="257" cy="518" r="8.4"/><circle cx="275" cy="485" r="8.4"/><circle cx="286" cy="485" r="8.4"/><circle cx="308.6" cy="464" r="8.4"/><circle cx="308.6" cy="470" r="8.4"/><circle cx="325.4" cy="495" r="8.4"/><circle cx="281.5" cy="513.4" r="8.4"/><circle cx="287.7" cy="516.7" r="8.4"/><circle cx="286" cy="527" r="8.4"/><circle cx="283.9" cy="530.1" r="8.4"/><circle cx="287.7" cy="533.9" r="8.4"/><circle cx="288.7" cy="538.7" r="8.4"/><circle cx="288.7" cy="543.5" r="8.4"/><circle cx="288.7" cy="547.3" r="8.4"/><circle cx="291.2" cy="538.5" r="8.4"/><circle cx="304.4" cy="505.3" r="8.4"/><circle cx="305.8" cy="515.8" r="8.4"/><circle cx="305.8" cy="520.6" r="8.4"/><circle cx="305.8" cy="525.3" r="8.4"/><circle cx="305.8" cy="530.1" r="8.4"/><circle cx="306.8" cy="533" r="8.4"/><circle cx="354" cy="547" r="8.4"/><circle cx="367" cy="545" r="8.4"/><circle cx="398" cy="298" r="8.4"/><circle cx="402" cy="534" r="8.4"/><circle cx="402" cy="543" r="8.4"/><circle cx="415" cy="534.4" r="8.4"/><circle cx="431" cy="379" r="8.4"/><circle cx="487" cy="306.4" r="8.4"/><circle cx="498" cy="300" r="8.4"/><circle cx="510" cy="328.6" r="8.4"/><circle cx="508" cy="344" r="8.4"/><circle cx="529" cy="332.4" r="8.4"/><circle cx="531" cy="344" r="8.4"/><circle cx="535" cy="356.6" r="8.4"/><circle cx="516.4" cy="361.6" r="8.4"/><circle cx="512" cy="373" r="8.4"/><circle cx="501.4" cy="400" r="8.4"/><circle cx="516" cy="404.4" r="8.4"/><circle cx="524.4" cy="387" r="8.4"/><circle cx="528" cy="394" r="8.4"/><circle cx="531" cy="400" r="8.4"/><circle cx="564" cy="384.4" r="8.4"/><circle cx="564" cy="393" r="8.4"/><circle cx="564" cy="406.4" r="8.4"/><circle cx="549.7" cy="426.8" r="8.4"/><circle cx="503.9" cy="432.9" r="8.4"/><circle cx="508.8" cy="428.8" r="8.4"/><circle cx="515.4" cy="427.2" r="8.4"/><circle cx="529.3" cy="430" r="8.4"/><circle cx="506" cy="446" r="8.4"/><circle cx="516.2" cy="444.4" r="8.4"/><circle cx="524" cy="443" r="8.4"/><circle cx="530.1" cy="444.4" r="8.4"/><circle cx="532.5" cy="444.4" r="8.4"/><circle cx="526.8" cy="457.5" r="8.4"/><circle cx="533.4" cy="455.8" r="8.4"/><circle cx="531" cy="472" r="8.4"/><circle cx="524" cy="485" r="8.4"/><circle cx="531" cy="483" r="8.4"/><circle cx="529" cy="492" r="8.4"/><circle cx="510" cy="494" r="8.4"/><circle cx="513" cy="502" r="8.4"/><circle cx="510" cy="506" r="8.4"/><circle cx="510" cy="514" r="8.4"/><circle cx="491.4" cy="497.4" r="8.4"/><circle cx="545" cy="493.6" r="8.4"/><circle cx="561.6" cy="495" r="8.4"/><circle cx="543.6" cy="514" r="8.4"/><circle cx="558" cy="461" r="8.4"/><circle cx="556" cy="472" r="8.4"/><circle cx="564" cy="467" r="8.4"/><circle cx="571" cy="466" r="8.4"/><circle cx="560" cy="472" r="8.4"/><circle cx="633" cy="390.7" r="8.4"/><circle cx="626.8" cy="401.6" r="8.4"/><circle cx="615.9" cy="407" r="8.4"/><circle cx="611.8" cy="420.7" r="8.4"/><circle cx="628.9" cy="430.3" r="8.4"/><circle cx="626.2" cy="437.8" r="8.4"/><circle cx="630" cy="440" r="8.4"/><circle cx="629.6" cy="444.6" r="8.4"/><circle cx="637.7" cy="446" r="8.4"/><circle cx="643.9" cy="436.4" r="8.4"/><circle cx="609.1" cy="446.6" r="8.4"/><circle cx="607.7" cy="459.6" r="8.4"/><circle cx="614.6" cy="458.2" r="8.4"/><circle cx="626.3" cy="485" r="8.4"/><circle cx="625.5" cy="534" r="8.4"/><circle cx="668" cy="370.6" r="8.4"/><circle cx="707.4" cy="386.4" r="8.4"/><circle cx="700" cy="397.6" r="8.4"/><circle cx="712" cy="400" r="8.4"/><circle cx="704" cy="409" r="8.4"/><circle cx="711" cy="412" r="8.4"/><circle cx="706" cy="419" r="8.4"/><circle cx="714" cy="419" r="8.4"/><circle cx="726.4" cy="410" r="8.4"/><circle cx="710" cy="437.5" r="8.4"/><circle cx="711.4" cy="438.2" r="8.4"/><circle cx="714.1" cy="447.7" r="8.4"/><circle cx="703.2" cy="458" r="8.4"/><circle cx="763.4" cy="333" r="8.4"/><circle cx="761.6" cy="350" r="8.4"/><circle cx="761.6" cy="377" r="8.4"/><circle cx="853.6" cy="331" r="8.4"/><circle cx="852.6" cy="352" r="8.4"/><circle cx="890" cy="304" r="8.4"/><circle cx="877.6" cy="310" r="8.4"/><circle cx="879.6" cy="323" r="8.4"/><circle cx="871.6" cy="335.6" r="8.4"/><circle cx="892" cy="354" r="8.4"/><circle cx="948.4" cy="279.4" r="8.4"/><circle cx="960.6" cy="354" r="8.4"/><circle cx="967" cy="366.6" r="8.4"/><circle cx="971" cy="397.6" r="8.4"/><circle cx="1008.4" cy="389.4" r="8.4"/><circle cx="989.6" cy="439" r="8.4"/><circle cx="1044" cy="264.6" r="8.4"/><circle cx="1137.2" cy="376.9" r="8.4"/><circle cx="1176.4" cy="347.4" r="8.4"/><circle cx="1180.9" cy="356.4" r="8.4"/><circle cx="1178.7" cy="379" r="8.4"/></g><g fill="none" stroke="#000" stroke-width="1.5" stroke-opacity="0.65"><circle cx="186" cy="491" r="8.4"/><circle cx="227.6" cy="532.4" r="8.4"/><circle cx="240.4" cy="530.6" r="8.4"/><circle cx="257" cy="433" r="8.4"/><circle cx="257" cy="487" r="8.4"/><circle cx="257" cy="518" r="8.4"/><circle cx="275" cy="485" r="8.4"/><circle cx="286" cy="485" r="8.4"/><circle cx="308.6" cy="464" r="8.4"/><circle cx="308.6" cy="470" r="8.4"/><circle cx="325.4" cy="495" r="8.4"/><circle cx="281.5" cy="513.4" r="8.4"/><circle cx="287.7" cy="516.7" r="8.4"/><circle cx="286" cy="527" r="8.4"/><circle cx="283.9" cy="530.1" r="8.4"/><circle cx="287.7" cy="533.9" r="8.4"/><circle cx="288.7" cy="538.7" r="8.4"/><circle cx="288.7" cy="543.5" r="8.4"/><circle cx="288.7" cy="547.3" r="8.4"/><circle cx="291.2" cy="538.5" r="8.4"/><circle cx="304.4" cy="505.3" r="8.4"/><circle cx="305.8" cy="515.8" r="8.4"/><circle cx="305.8" cy="520.6" r="8.4"/><circle cx="305.8" cy="525.3" r="8.4"/><circle cx="305.8" cy="530.1" r="8.4"/><circle cx="306.8" cy="533" r="8.4"/><circle cx="354" cy="547" r="8.4"/><circle cx="367" cy="545" r="8.4"/><circle cx="398" cy="298" r="8.4"/><circle cx="402" cy="534" r="8.4"/><circle cx="402" cy="543" r="8.4"/><circle cx="415" cy="534.4" r="8.4"/><circle cx="431" cy="379" r="8.4"/><circle cx="487" cy="306.4" r="8.4"/><circle cx="498" cy="300" r="8.4"/><circle cx="510" cy="328.6" r="8.4"/><circle cx="508" cy="344" r="8.4"/><circle cx="529" cy="332.4" r="8.4"/><circle cx="531" cy="344" r="8.4"/><circle cx="535" cy="356.6" r="8.4"/><circle cx="516.4" cy="361.6" r="8.4"/><circle cx="512" cy="373" r="8.4"/><circle cx="501.4" cy="400" r="8.4"/><circle cx="516" cy="404.4" r="8.4"/><circle cx="524.4" cy="387" r="8.4"/><circle cx="528" cy="394" r="8.4"/><circle cx="531" cy="400" r="8.4"/><circle cx="564" cy="384.4" r="8.4"/><circle cx="564" cy="393" r="8.4"/><circle cx="564" cy="406.4" r="8.4"/><circle cx="549.7" cy="426.8" r="8.4"/><circle cx="503.9" cy="432.9" r="8.4"/><circle cx="508.8" cy="428.8" r="8.4"/><circle cx="515.4" cy="427.2" r="8.4"/><circle cx="529.3" cy="430" r="8.4"/><circle cx="506" cy="446" r="8.4"/><circle cx="516.2" cy="444.4" r="8.4"/><circle cx="524" cy="443" r="8.4"/><circle cx="530.1" cy="444.4" r="8.4"/><circle cx="532.5" cy="444.4" r="8.4"/><circle cx="526.8" cy="457.5" r="8.4"/><circle cx="533.4" cy="455.8" r="8.4"/><circle cx="531" cy="472" r="8.4"/><circle cx="524" cy="485" r="8.4"/><circle cx="531" cy="483" r="8.4"/><circle cx="529" cy="492" r="8.4"/><circle cx="510" cy="494" r="8.4"/><circle cx="513" cy="502" r="8.4"/><circle cx="510" cy="506" r="8.4"/><circle cx="510" cy="514" r="8.4"/><circle cx="491.4" cy="497.4" r="8.4"/><circle cx="545" cy="493.6" r="8.4"/><circle cx="561.6" cy="495" r="8.4"/><circle cx="543.6" cy="514" r="8.4"/><circle cx="558" cy="461" r="8.4"/><circle cx="556" cy="472" r="8.4"/><circle cx="564" cy="467" r="8.4"/><circle cx="571" cy="466" r="8.4"/><circle cx="560" cy="472" r="8.4"/><circle cx="633" cy="390.7" r="8.4"/><circle cx="626.8" cy="401.6" r="8.4"/><circle cx="615.9" cy="407" r="8.4"/><circle cx="611.8" cy="420.7" r="8.4"/><circle cx="628.9" cy="430.3" r="8.4"/><circle cx="626.2" cy="437.8" r="8.4"/><circle cx="630" cy="440" r="8.4"/><circle cx="629.6" cy="444.6" r="8.4"/><circle cx="637.7" cy="446" r="8.4"/><circle cx="643.9" cy="436.4" r="8.4"/><circle cx="609.1" cy="446.6" r="8.4"/><circle cx="607.7" cy="459.6" r="8.4"/><circle cx="614.6" cy="458.2" r="8.4"/><circle cx="626.3" cy="485" r="8.4"/><circle cx="625.5" cy="534" r="8.4"/><circle cx="668" cy="370.6" r="8.4"/><circle cx="707.4" cy="386.4" r="8.4"/><circle cx="700" cy="397.6" r="8.4"/><circle cx="712" cy="400" r="8.4"/><circle cx="704" cy="409" r="8.4"/><circle cx="711" cy="412" r="8.4"/><circle cx="706" cy="419" r="8.4"/><circle cx="714" cy="419" r="8.4"/><circle cx="726.4" cy="410" r="8.4"/><circle cx="710" cy="437.5" r="8.4"/><circle cx="711.4" cy="438.2" r="8.4"/><circle cx="714.1" cy="447.7" r="8.4"/><circle cx="703.2" cy="458" r="8.4"/><circle cx="763.4" cy="333" r="8.4"/><circle cx="761.6" cy="350" r="8.4"/><circle cx="761.6" cy="377" r="8.4"/><circle cx="853.6" cy="331" r="8.4"/><circle cx="852.6" cy="352" r="8.4"/><circle cx="890" cy="304" r="8.4"/><circle cx="877.6" cy="310" r="8.4"/><circle cx="879.6" cy="323" r="8.4"/><circle cx="871.6" cy="335.6" r="8.4"/><circle cx="892" cy="354" r="8.4"/><circle cx="948.4" cy="279.4" r="8.4"/><circle cx="960.6" cy="354" r="8.4"/><circle cx="967" cy="366.6" r="8.4"/><circle cx="971" cy="397.6" r="8.4"/><circle cx="1008.4" cy="389.4" r="8.4"/><circle cx="989.6" cy="439" r="8.4"/><circle cx="1044" cy="264.6" r="8.4"/><circle cx="1137.2" cy="376.9" r="8.4"/><circle cx="1176.4" cy="347.4" r="8.4"/><circle cx="1180.9" cy="356.4" r="8.4"/><circle cx="1178.7" cy="379" r="8.4"/></g><text x="69.6" y="128.2" font-size="28.2" text-anchor="end">80</text><text x="69.5" y="238.2" font-size="28.2" text-anchor="end">60</text><text x="69.5" y="348.3" font-size="28.2" text-anchor="end">40</text><text x="69.5" y="458.2" font-size="28.2" text-anchor="end">20</text><text x="69.0" y="568.6" font-size="28.2" text-anchor="end">0</text><text x="68.7" y="19.8" font-size="28.2" text-anchor="end">00</text><text x="219.80" y="591" font-size="28.2" text-anchor="middle">20</text><text x="365.55" y="591" font-size="28.2" text-anchor="middle">25</text><text x="511.30" y="591" font-size="28.2" text-anchor="middle">30</text><text x="656.80" y="591" font-size="28.2" text-anchor="middle">35</text><text x="799.55" y="591" font-size="28.2" text-anchor="middle">40</text><text x="944.75" y="591" font-size="28.2" text-anchor="middle">45</text><text x="1090.35" y="591" font-size="28.2" text-anchor="middle">50</text><text x="1235.90" y="591" font-size="28.2" text-anchor="middle">55</text><text x="76.8" y="591" font-size="28.2">5</text><path fill="#000" d="M32.80 -0.10L32.80 19.80L29.95 19.80L29.95 3.80Q27.80 5.90 25.15 6.90L25.15 4.80Q28.60 3.50 30.80 -0.10ZM71.90 571.00L71.90 590.90L69.05 590.90L69.05 574.90Q66.90 577.00 64.25 578.00L64.25 575.90Q67.70 574.60 69.90 571.00Z"/><text x="671.1" y="623.6" font-size="33.2" text-anchor="middle">Latitude South</text><g fill="none" stroke="#000" stroke-width="2.4"><ellipse cx="18.75" cy="277.9" rx="5.05" ry="3.6"/><ellipse cx="6.0" cy="293.0" rx="5.1" ry="3.75"/></g><path d="M-1 277.3L24.8 290.65L24.8 293.45L-1 280.1Z" fill="#000"/><rect x="72.05" y="645.05" width="527.45" height="87" fill="#fff" stroke="#000" stroke-width="1.6"/><circle cx="129.9" cy="667.8" r="8.3" fill="#f00" stroke="#000" stroke-width="1.4"/><circle cx="129.9" cy="707" r="8.3" fill="#00f" stroke="#000" stroke-width="1.4"/><text x="181.6" y="680.4" font-size="27.7">Percentage of time well classified</text><text x="181.6" y="719.8" font-size="27.7">Percentage of time with clouds</text></svg></body></html>
